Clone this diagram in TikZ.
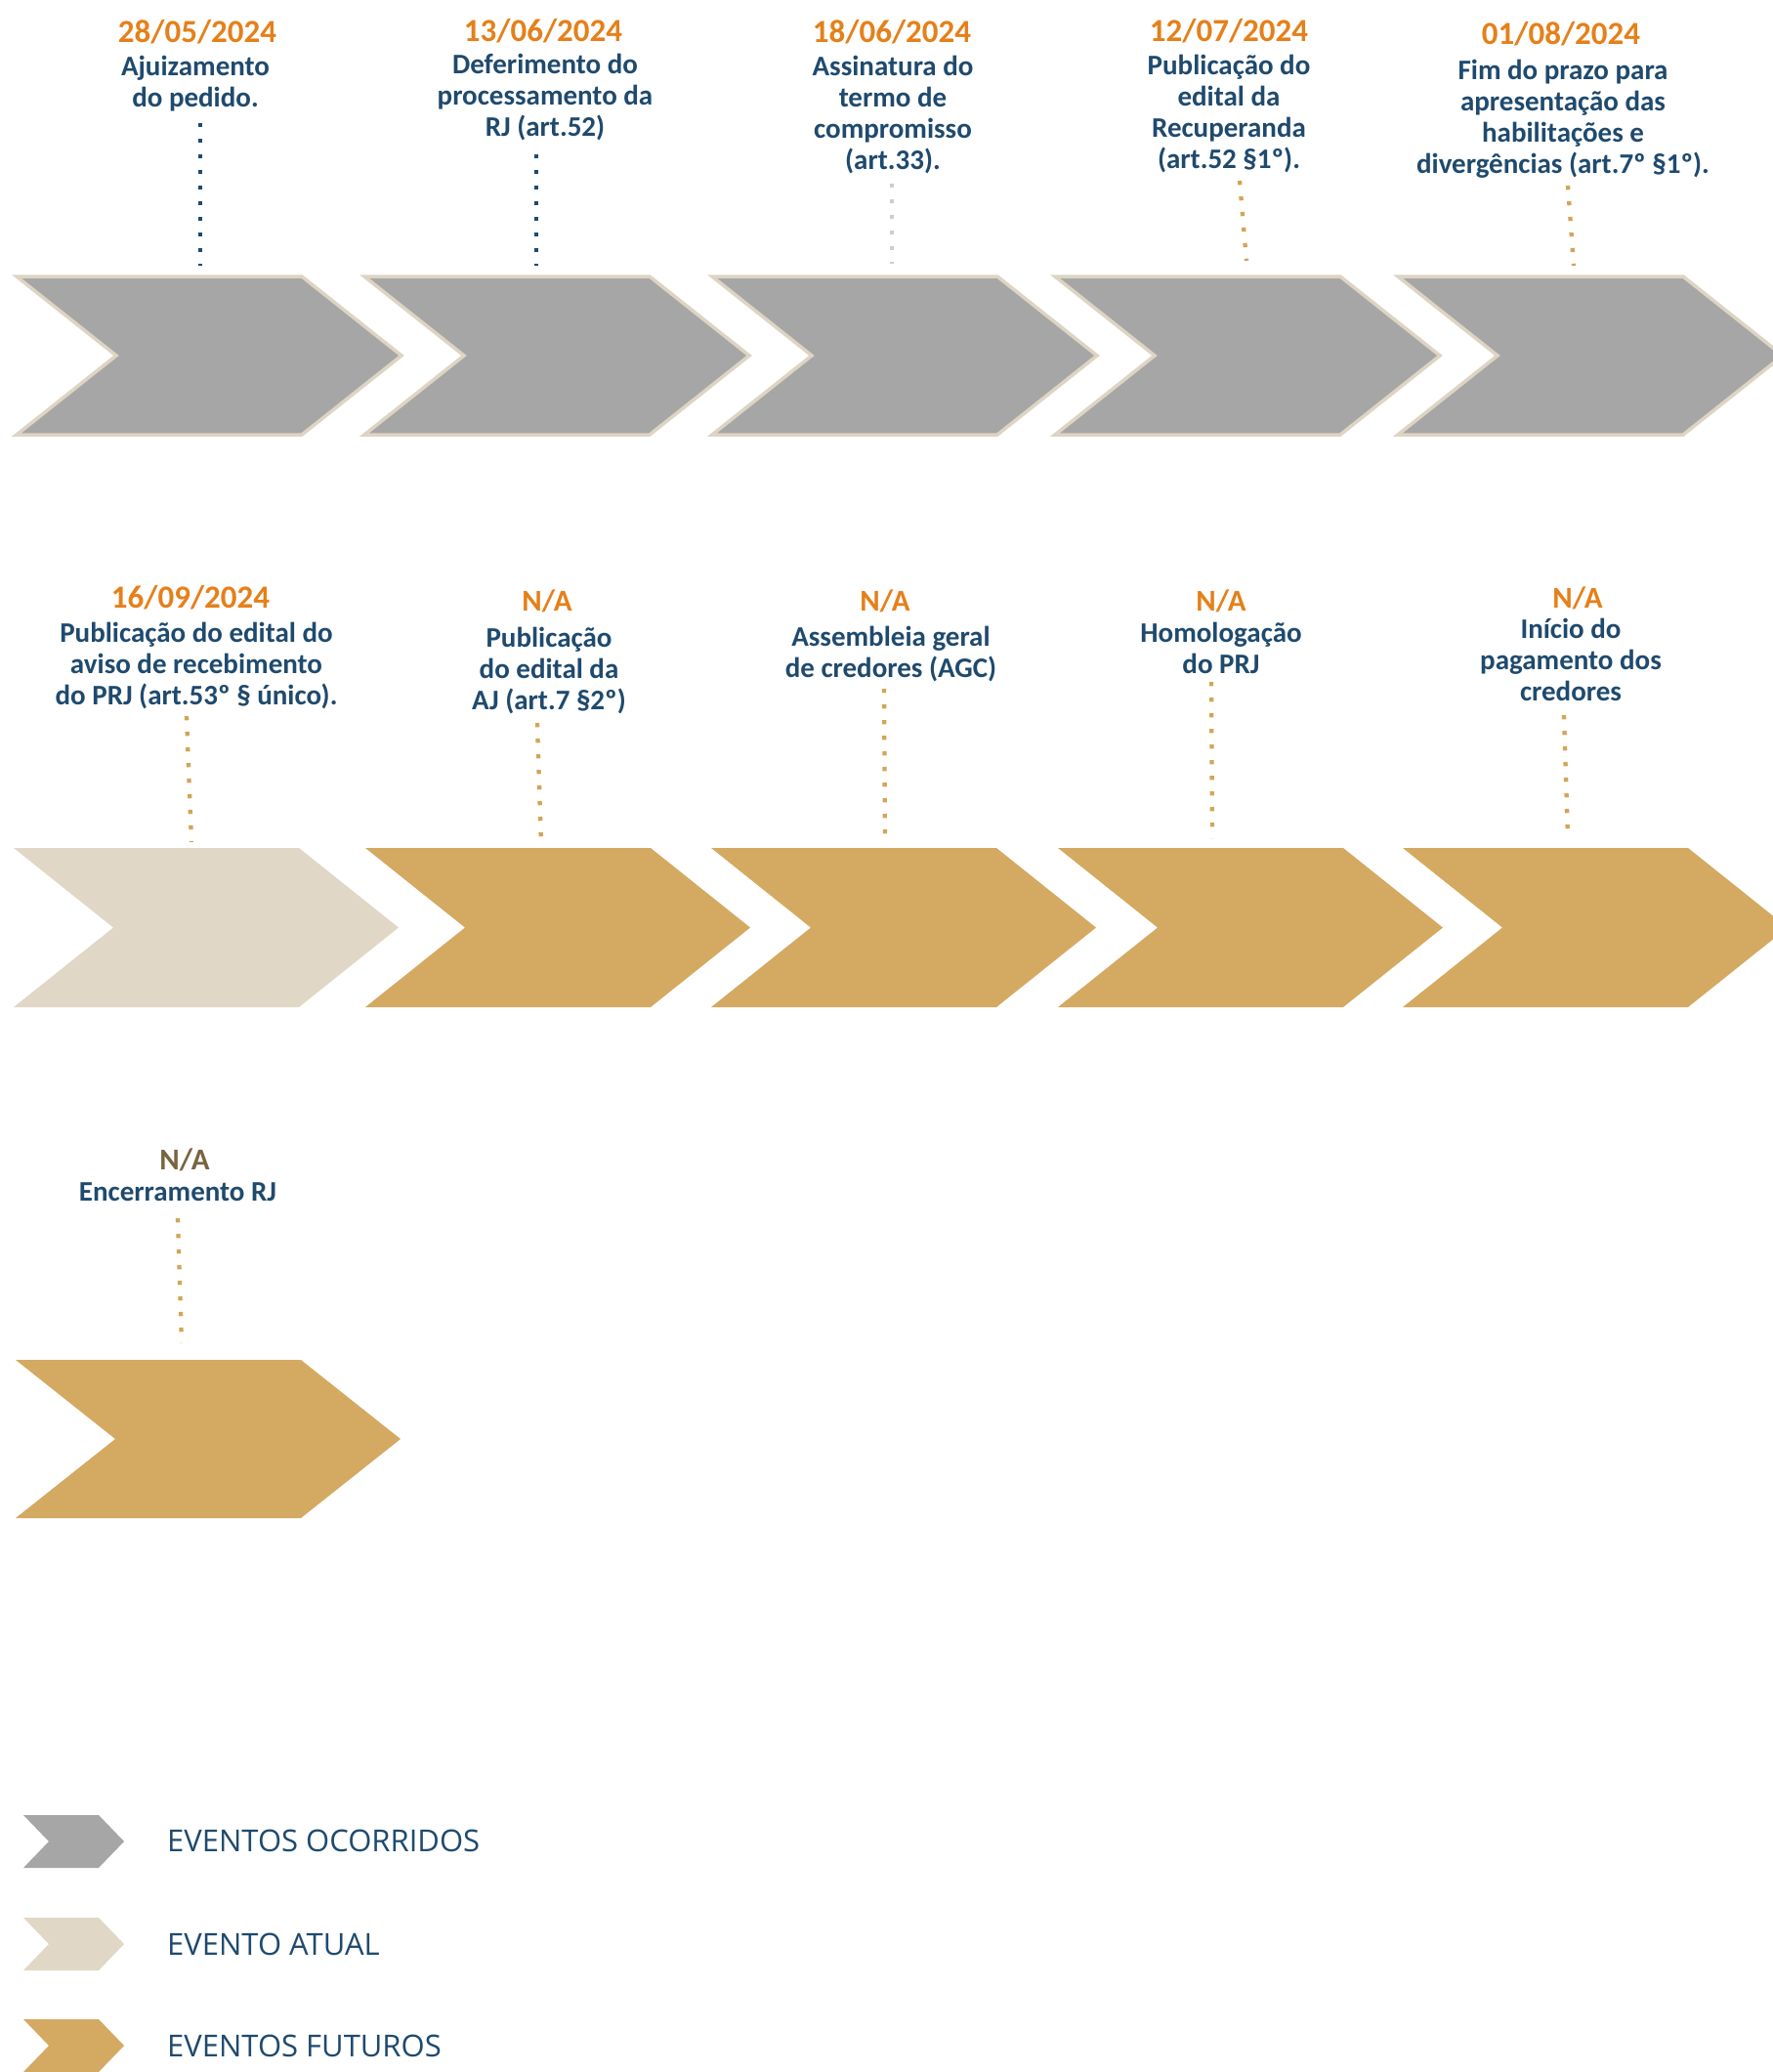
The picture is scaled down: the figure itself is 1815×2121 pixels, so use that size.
\documentclass[tikz,border=0pt]{standalone}
\usepackage{fontspec}
\newfontfamily\lblfont{Carlito}
\newfontfamily\legfont{Open Sans}
\definecolor{cgray}{HTML}{A6A6A6}
\definecolor{cbeige}{HTML}{E0D7C6}
\definecolor{cbeigeline}{HTML}{DDD4C3}
\definecolor{cgold}{HTML}{D4A962}
\definecolor{cdotgold}{HTML}{D3A558}
\definecolor{corange}{HTML}{E5801A}
\definecolor{cblue}{HTML}{1F4A6E}
\definecolor{cbrown}{HTML}{7A6440}
\definecolor{cdotgray}{HTML}{D3CDC3}
\tikzset{
  chevgray/.style={fill=cgray, draw=cbeigeline, line width=3.5pt, line join=miter},
  chevcur/.style={fill=cbeige},
  chevfut/.style={fill=cgold},
  legtxt/.style={anchor=west, inner sep=0pt, text=cblue, font=\legfont\fontsize{31}{36}\selectfont},
  datelbl/.style={anchor=base, inner sep=0pt, text=corange, font=\lblfont\bfseries\fontsize{33}{36}\selectfont},
  nalbl/.style={anchor=base, inner sep=0pt, text=corange, font=\lblfont\bfseries\fontsize{31}{34}\selectfont},
  desclbl/.style={anchor=base, inner sep=0pt, align=center, text=cblue, font=\lblfont\bfseries\fontsize{29}{32}\selectfont},
  dotline/.style={line width=4.3pt, dash pattern=on 4.3pt off 11.7pt},
}
% #1 name, #2 style, #3 x, #4 ytop, #5 width, #6 height, #7 depth of tip/notch
\newcommand\chev[7]{%
  \path[#2] (#3,#4) -- ++(#5-#7,0) -- ++(#7,#6/2) -- ++(-#7,#6/2) -- ++(-#5+#7,0) -- ++(#7,-#6/2) -- cycle;
  \coordinate (#1) at (#3+#5/2,#4);}
\begin{document}
\begin{tikzpicture}[x=1pt,y=-1pt]
\fill[white] (0,0) rectangle (1815,2121);
\useasboundingbox (0,0) rectangle (1815,2121);

% ---------- row 1 chevrons ----------
\chev{c1}{chevgray}{17}{283}{394}{162}{102}
\chev{c2}{chevgray}{373}{283}{394}{162}{102}
\chev{c3}{chevgray}{729}{283}{394}{162}{102}
\chev{c4}{chevgray}{1080}{283}{394}{162}{102}
\chev{c5}{chevgray}{1431}{283}{394}{162}{102}

% ---------- row 2 chevrons ----------
\chev{c6}{chevcur}{14}{868}{394}{163}{102}
\chev{c7}{chevfut}{374}{868}{394}{163}{102}
\chev{c8}{chevfut}{728}{868}{394}{163}{102}
\chev{c9}{chevfut}{1083}{868}{394}{163}{102}
\chev{c10}{chevfut}{1436}{868}{394}{163}{102}

% ---------- row 3 chevron ----------
\chev{c11}{chevfut}{16}{1392}{394}{162}{102}

% ---------- row 1 labels (desc anchored at baseline of last line) ----------
\node[datelbl] (d1) at (202,43) {28/05/2024};
\node[desclbl] (t1) at (200,109) {Ajuizamento\\do pedido.};
\coordinate (a1) at (205,126); \coordinate (b1) at (205,272);
\draw[dotline, draw=cblue] (a1) -- (b1);

\node[datelbl] (d2) at (556,42) {13/06/2024};
\node[desclbl] (t2) at (558,139) {Deferimento do\\processamento da\\RJ (art.52)};
\coordinate (a2) at (549,158); \coordinate (b2) at (549,272);
\draw[dotline, draw=cblue] (a2) -- (b2);

\node[datelbl] (d3) at (913,43) {18/06/2024};
\node[desclbl] (t3) at (914,173) {Assinatura do\\termo de\\compromisso\\(art.33).};
\coordinate (a3) at (913,188); \coordinate (b3) at (913,270);
\draw[dotline, draw=cdotgray] (a3) -- (b3);

\node[datelbl] (d4) at (1258,42) {12/07/2024};
\node[desclbl] (t4) at (1258,172) {Publicação do\\edital da\\Recuperanda\\(art.52 §1º).};
\coordinate (a4) at (1269,185); \coordinate (b4) at (1276,267);
\draw[dotline, draw=cdotgold] (a4) -- (b4);

\node[datelbl] (d5) at (1598,45) {01/08/2024};
\node[desclbl] (t5) at (1600,177) {Fim do prazo para\\apresentação das\\habilitações e\\divergências (art.7º §1º).};
\coordinate (a5) at (1605,190); \coordinate (b5) at (1611,272);
\draw[dotline, draw=cdotgold] (a5) -- (b5);

% ---------- row 2 labels ----------
\node[datelbl] (d6) at (195,622) {16/09/2024};
\node[desclbl] (t6) at (201,721) {Publicação do edital do\\aviso de recebimento\\do PRJ (art.53º § único).};
\coordinate (a6) at (191,733); \coordinate (b6) at (196,862);
\draw[dotline, draw=cdotgold] (a6) -- (b6);

\node[nalbl] (d7) at (560,625) {N/A};
\node[desclbl] (t7) at (562,726) {Publicação\\do edital da\\AJ (art.7 §2º)};
\coordinate (a7) at (550,740); \coordinate (b7) at (554,865);
\draw[dotline, draw=cdotgold] (a7) -- (b7);

\node[nalbl] (d8) at (906,625) {N/A};
\node[desclbl] (t8) at (912,693) {Assembleia geral\\de credores (AGC)};
\coordinate (a8) at (905,705); \coordinate (b8) at (906,863);
\draw[dotline, draw=cdotgold] (a8) -- (b8);

\node[nalbl] (d9) at (1250,625) {N/A};
\node[desclbl] (t9) at (1250,689) {Homologação\\do PRJ};
\coordinate (a9) at (1240,698); \coordinate (b9) at (1241,858);
\draw[dotline, draw=cdotgold] (a9) -- (b9);

\node[nalbl] (d10) at (1615,622) {N/A};
\node[desclbl] (t10) at (1608,717) {Início do\\pagamento dos\\credores};
\coordinate (a10) at (1601,732); \coordinate (b10) at (1605,858);
\draw[dotline, draw=cdotgold] (a10) -- (b10);

% ---------- row 3 label ----------
\node[nalbl, text=cbrown] (d11) at (189,1197) {N/A};
\node[desclbl] (t11) at (182,1229) {Encerramento RJ};
\coordinate (a11) at (182,1247); \coordinate (b11) at (186,1375);
\draw[dotline, draw=cdotgold] (a11) -- (b11);

% ---------- legend ----------
\chev{l1}{fill=cgray}{24}{1858}{103}{54}{26}
\chev{l2}{fill=cbeige}{24}{1963}{103}{54}{26}
\chev{l3}{fill=cgold}{24}{2067}{103}{54}{26}
\node[legtxt] (lt1) at (171,1884) {EVENTOS OCORRIDOS};
\node[legtxt] (lt2) at (171,1990) {EVENTO ATUAL};
\node[legtxt] (lt3) at (171,2094) {EVENTOS FUTUROS};
\end{tikzpicture}
\end{document}
